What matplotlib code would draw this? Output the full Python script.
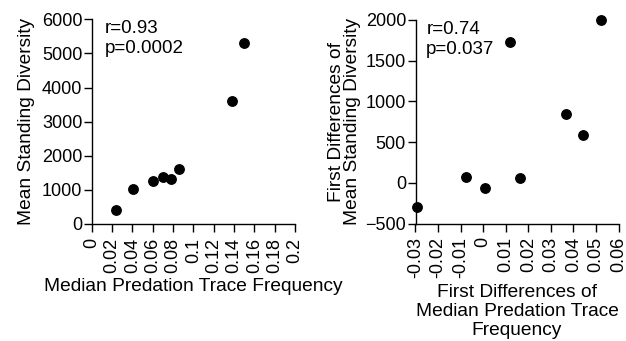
import matplotlib
matplotlib.use("Agg")
import matplotlib.pyplot as plt

plt.rcParams['font.family'] = ['Liberation Sans', 'DejaVu Sans']
plt.rcParams['font.size'] = 13

# left panel: median predation trace frequency vs mean standing diversity
pred_freq = [0.0236, 0.041, 0.0607, 0.070, 0.0778, 0.0857, 0.138, 0.150]
mean_div = [418, 1032, 1266, 1383, 1316, 1608, 3596, 5301]

# right panel: first differences
diff_freq = [-0.0293, -0.0076, 0.0007, 0.0121, 0.0163, 0.0366, 0.0443, 0.0521]
diff_div = [-303, 66, -70, 1725, 61, 844, 590, 2000]

left_xticks = [0, 0.02, 0.04, 0.06, 0.08, 0.1, 0.12, 0.14, 0.16, 0.18, 0.2]
left_xlabels = ["0", "0.02", "0.04", "0.06", "0.08", "0.1", "0.12", "0.14", "0.16", "0.18", "0.2"]
left_yticks = [0, 1000, 2000, 3000, 4000, 5000, 6000]
right_xticks = [-0.03, -0.02, -0.01, 0, 0.01, 0.02, 0.03, 0.04, 0.05, 0.06]
right_xlabels = ["-0.03", "-0.02", "-0.01", "0", "0.01", "0.02", "0.03", "0.04", "0.05", "0.06"]
right_yticks = [-500, 0, 500, 1000, 1500, 2000]

W, H = 626, 341
fig = plt.figure(figsize=(W / 100, H / 100), dpi=100)
# axes boxes in pixels: left, top, right, bottom
ax1 = fig.add_axes([91.7 / W, (H - 224) / H, (295 - 91.7) / W, (224 - 19.3) / H])
ax2 = fig.add_axes([415.5 / W, (H - 223.5) / H, (618.5 - 415.5) / W, (223.5 - 20) / H])

LBL = 13.8


def style(ax):
    for s in ['top', 'right']:
        ax.spines[s].set_visible(False)
    for s in ['left', 'bottom']:
        ax.spines[s].set_linewidth(1.0)
    ax.tick_params(direction='out', length=5.8, width=1.0, labelsize=13)
    ax.tick_params(axis='y', pad=1)
    ax.tick_params(axis='x', labelrotation=90, pad=4)


ax1.plot(pred_freq, mean_div, 'o', color='black', markersize=6.8, clip_on=False)
ax1.set_xlim(0, 0.2)
ax1.set_ylim(0, 6000)
ax1.set_xticks(left_xticks)
ax1.set_xticklabels(left_xlabels)
ax1.set_yticks(left_yticks)
ax1.set_xlabel("Median Predation Trace Frequency", fontsize=LBL, labelpad=4)
ax1.set_ylabel("Mean Standing Diversity", fontsize=LBL, labelpad=5)
ax1.text(0.066, 0.932, "r=0.93", transform=ax1.transAxes, va='baseline', ha='left', fontsize=13.5)
ax1.text(0.066, 0.834, "p=0.0002", transform=ax1.transAxes, va='baseline', ha='left', fontsize=13.5)
style(ax1)

ax2.plot(diff_freq, diff_div, 'o', color='black', markersize=6.8, clip_on=False)
ax2.set_xlim(-0.03, 0.06)
ax2.set_ylim(-500, 2000)
ax2.set_xticks(right_xticks)
ax2.set_xticklabels(right_xlabels)
ax2.set_yticks(right_yticks)
ax2.set_xlabel("First Differences of\nMedian Predation Trace\nFrequency",
               fontsize=LBL, labelpad=4, linespacing=1.15)
ax2.set_ylabel("First Differences of\nMean Standing Diversity",
               fontsize=LBL, labelpad=3, linespacing=0.95)
ax2.text(0.053, 0.932, "r=0.74", transform=ax2.transAxes, va='baseline', ha='left', fontsize=13.5)
ax2.text(0.053, 0.834, "p=0.037", transform=ax2.transAxes, va='baseline', ha='left', fontsize=13.5)
style(ax2)

fig.savefig("out.png", dpi=100, facecolor='white')
